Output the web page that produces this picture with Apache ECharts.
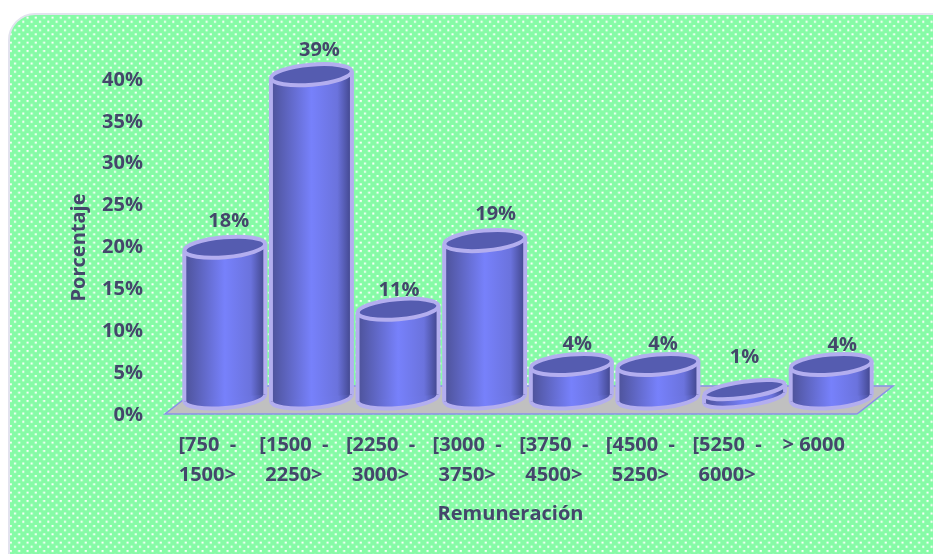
<!DOCTYPE html>
<html>
<head>
<meta charset="utf-8">
<title>Remuneración</title>
<script src="https://cdn.jsdelivr.net/npm/echarts@6/dist/echarts.min.js"></script>
<style>
  html, body { margin: 0; padding: 0; width: 933px; height: 554px; overflow: hidden; background: #fff; }
  .panel { position: absolute; left: 0; top: 0; }
  #main { position: absolute; left: 0; top: 0; width: 933px; height: 554px; }
</style>
</head>
<body>
<svg class="panel" width="933" height="554">
  <defs>
    <pattern id="dots" patternUnits="userSpaceOnUse" width="8.333" height="8.333">
      <rect width="8.333" height="8.333" fill="#86fba6"/>
      <rect x="1.5" y="0" width="2" height="2" fill="#fff"/>
      <rect x="5.67" y="4.17" width="2" height="2" fill="#fff"/>
    </pattern>
  </defs>
  <rect x="9" y="14" width="960" height="600" rx="26" fill="url(#dots)" stroke="#e2e2ee" stroke-width="2"/>
</svg>
<div id="main"></div>
<script>
const categories = ["[750  -\n1500>", "[1500  -\n2250>", "[2250  -\n3000>", "[3000  -\n3750>", "[3750  -\n4500>", "[4500  -\n5250>", "[5250  -\n6000>", "> 6000"];
// heights, the labels show them rounded
const percentages = [18, 38.6, 10.6, 18.8, 4, 4, 1, 4];
const yTicks = [0, 5, 10, 15, 20, 25, 30, 35, 40];

// hand placement of the value labels, they do not sit on a regular line in the original
const labelShiftX = [4, 8, 1, 11, 6, 5, 0, 11];
const labelShiftY = [-26, -24, -18.5, -26.5, -20, -20, -32, -19];

const textColor = "#44476b";
const fontFamily = "Open Sans";
const fontSize = 20;
const rimColor = "#b3aeef";
const depthX = 17.5;
const depthY = -17;

const chart = echarts.init(document.getElementById("main"));

const bodyGradient = new echarts.graphic.LinearGradient(0, 0, 1, 0, [
  { offset: 0, color: "#4d5299" },
  { offset: 0.5, color: "#7781fb" },
  { offset: 0.82, color: "#6b73dd" },
  { offset: 1, color: "#3f4488" },
]);

function renderFloor(params, api) {
  const cs = params.coordSys;
  const y = api.coord([0, 0])[1] - 1;
  const x0 = cs.x + 1;
  const x1 = cs.x + cs.width;
  return {
    type: "polygon",
    shape: { points: [[x0, y], [x1, y], [x1 + 36, y - 28], [x0 + 36, y - 28]] },
    style: { fill: "#c0c0c0", stroke: "#8a8fe8", lineWidth: 1.5 },
    silent: true,
  };
}

function renderCylinder(params, api) {
  const i = api.value(0);
  const v = api.value(1);
  const base = api.coord([i, 0]);
  const top = api.coord([i, v]);
  const cx = base[0] + depthX;
  const by = base[1] + depthY;
  const ty = top[1] + depthY;
  const rx = 40.5;
  const ry = v < 2 ? 8 : 10;
  const rot = (v < 2 ? 8 : 5) * Math.PI / 180;
  const tilt = rx * Math.sin(rot);

  const ellipse = (y, fill) => ({
    type: "ellipse",
    shape: { cx: cx, cy: y, rx: rx, ry: ry },
    rotation: rot,
    originX: cx,
    originY: y,
    style: { fill: fill, stroke: rimColor, lineWidth: 4 },
  });

  const children = [ellipse(by, bodyGradient)];
  children.push({
    type: "polygon",
    shape: {
      points: [
        [cx - rx, ty + tilt], [cx + rx, ty - tilt],
        [cx + rx, by - tilt], [cx - rx, by + tilt],
      ],
    },
    style: { fill: bodyGradient },
  });
  children.push({
    type: "line",
    shape: { x1: cx - rx, y1: ty + tilt, x2: cx - rx, y2: by + tilt },
    style: { stroke: rimColor, lineWidth: 4 },
  });
  children.push({
    type: "line",
    shape: { x1: cx + rx, y1: ty - tilt, x2: cx + rx, y2: by - tilt },
    style: { stroke: rimColor, lineWidth: 4 },
  });
  children.push(ellipse(ty, "#555cb0"));
  children.push({
    type: "text",
    style: {
      x: cx + labelShiftX[i],
      y: ty + labelShiftY[i],
      text: Math.round(v) + "%",
      fill: textColor,
      font: "bold " + fontSize + "px " + fontFamily,
      align: "center",
      verticalAlign: "middle",
    },
  });
  return { type: "group", children: children };
}

const option = {
  animation: false,
  backgroundColor: "transparent",
  grid: { left: 164, top: 80, width: 693, height: 335 },
  xAxis: {
    type: "category",
    data: categories,
    axisLine: { show: false },
    axisTick: { show: false },
    axisLabel: {
      color: textColor,
      fontFamily: fontFamily,
      fontWeight: "bold",
      fontSize: fontSize,
      lineHeight: 30,
      margin: 15,
      interval: 0,
    },
    name: "Remuneración",
    nameLocation: "middle",
    nameGap: 89,
    nameTextStyle: { color: textColor, fontFamily: fontFamily, fontWeight: "bold", fontSize: fontSize },
  },
  yAxis: {
    type: "value",
    min: yTicks[0],
    max: yTicks[yTicks.length - 1],
    interval: 5,
    axisLine: { show: false },
    axisTick: { show: false },
    splitLine: { show: false },
    axisLabel: {
      formatter: "{value}%",
      color: textColor,
      fontFamily: fontFamily,
      fontWeight: "bold",
      fontSize: fontSize,
      margin: 21,
    },
    name: "Porcentaje",
    nameLocation: "middle",
    nameGap: 75,
    nameTextStyle: { color: textColor, fontFamily: fontFamily, fontWeight: "bold", fontSize: fontSize },
  },
  series: [
    {
      type: "custom",
      renderItem: renderFloor,
      data: [[0, 0]],
      encode: { x: 0, y: 1 },
      z: 1,
      silent: true,
    },
    {
      type: "custom",
      renderItem: renderCylinder,
      data: percentages.map((v, i) => [i, v]),
      encode: { x: 0, y: 1 },
      z: 2,
    },
  ],
};

chart.setOption(option);
</script>
</body>
</html>
